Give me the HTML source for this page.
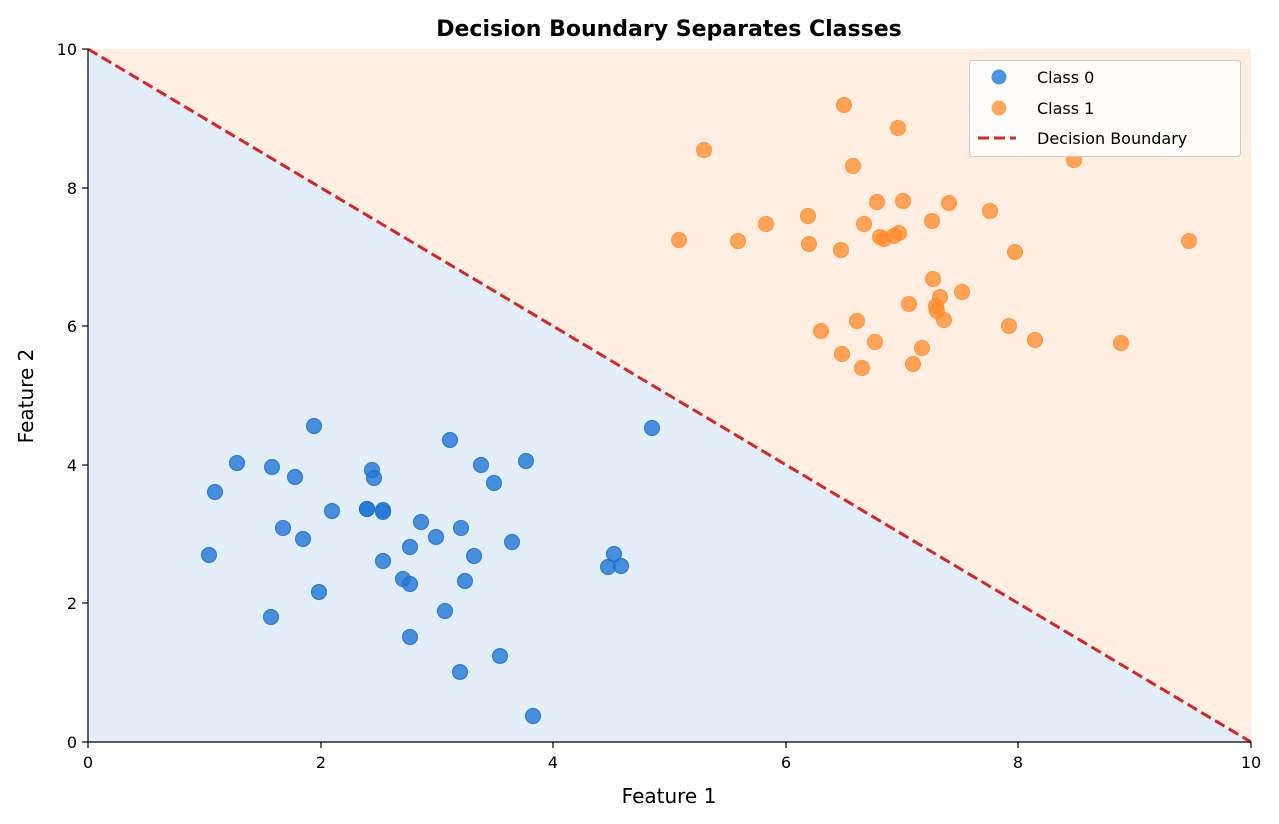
<!DOCTYPE html>
<html><head><meta charset="utf-8"><style>body{margin:0;background:#fff}svg{display:block;font-family:"DejaVu Sans","Liberation Sans",sans-serif}</style></head>
<body>
<svg width="1279" height="824" viewBox="0 0 1279 824" xmlns="http://www.w3.org/2000/svg">
<rect width="1279" height="824" fill="#fff"/>
<polygon points="88,49 1251,742 88,742" fill="#e3eef9"/>
<polygon points="88,49 1251,49 1251,742" fill="#ffefe3"/>
<g fill="#1f77d4" fill-opacity="0.8" stroke="#1f6fc8" stroke-opacity="0.8" stroke-width="1.2">
<circle cx="209" cy="555" r="7.5"/><circle cx="215" cy="492" r="7.5"/><circle cx="237" cy="463" r="7.5"/><circle cx="272" cy="467" r="7.5"/><circle cx="271" cy="617" r="7.5"/><circle cx="283" cy="528" r="7.5"/><circle cx="295" cy="477" r="7.5"/><circle cx="303" cy="539" r="7.5"/><circle cx="314" cy="426" r="7.5"/><circle cx="319" cy="592" r="7.5"/><circle cx="332" cy="511" r="7.5"/><circle cx="367" cy="509" r="7.5"/><circle cx="367" cy="509" r="7.5"/><circle cx="372" cy="470" r="7.5"/><circle cx="374" cy="478" r="7.5"/><circle cx="383" cy="510" r="7.5"/><circle cx="383" cy="512" r="7.5"/><circle cx="383" cy="561" r="7.5"/><circle cx="403" cy="579" r="7.5"/><circle cx="410" cy="547" r="7.5"/><circle cx="410" cy="584" r="7.5"/><circle cx="410" cy="637" r="7.5"/><circle cx="421" cy="522" r="7.5"/><circle cx="436" cy="537" r="7.5"/><circle cx="445" cy="611" r="7.5"/><circle cx="450" cy="440" r="7.5"/><circle cx="460" cy="672" r="7.5"/><circle cx="461" cy="528" r="7.5"/><circle cx="465" cy="581" r="7.5"/><circle cx="474" cy="556" r="7.5"/><circle cx="481" cy="465" r="7.5"/><circle cx="494" cy="483" r="7.5"/><circle cx="500" cy="656" r="7.5"/><circle cx="512" cy="542" r="7.5"/><circle cx="526" cy="461" r="7.5"/><circle cx="533" cy="716" r="7.5"/><circle cx="608" cy="567" r="7.5"/><circle cx="614" cy="554" r="7.5"/><circle cx="621" cy="566" r="7.5"/><circle cx="652" cy="428" r="7.5"/>
</g>
<g fill="#ff8a2a" fill-opacity="0.75" stroke="#ff8a2a" stroke-opacity="0.75" stroke-width="1.2">
<circle cx="679" cy="240" r="7.5"/><circle cx="704" cy="150" r="7.5"/><circle cx="738" cy="241" r="7.5"/><circle cx="766" cy="224" r="7.5"/><circle cx="808" cy="216" r="7.5"/><circle cx="809" cy="244" r="7.5"/><circle cx="821" cy="331" r="7.5"/><circle cx="841" cy="250" r="7.5"/><circle cx="842" cy="354" r="7.5"/><circle cx="844" cy="105" r="7.5"/><circle cx="853" cy="166" r="7.5"/><circle cx="857" cy="321" r="7.5"/><circle cx="862" cy="368" r="7.5"/><circle cx="864" cy="224" r="7.5"/><circle cx="875" cy="342" r="7.5"/><circle cx="877" cy="202" r="7.5"/><circle cx="880" cy="237" r="7.5"/><circle cx="884" cy="239" r="7.5"/><circle cx="894" cy="236" r="7.5"/><circle cx="899" cy="233" r="7.5"/><circle cx="898" cy="128" r="7.5"/><circle cx="903" cy="201" r="7.5"/><circle cx="909" cy="304" r="7.5"/><circle cx="913" cy="364" r="7.5"/><circle cx="922" cy="348" r="7.5"/><circle cx="932" cy="221" r="7.5"/><circle cx="933" cy="279" r="7.5"/><circle cx="936" cy="306" r="7.5"/><circle cx="937" cy="311" r="7.5"/><circle cx="940" cy="297" r="7.5"/><circle cx="944" cy="320" r="7.5"/><circle cx="949" cy="203" r="7.5"/><circle cx="962" cy="292" r="7.5"/><circle cx="990" cy="211" r="7.5"/><circle cx="1009" cy="326" r="7.5"/><circle cx="1015" cy="252" r="7.5"/><circle cx="1035" cy="340" r="7.5"/><circle cx="1074" cy="160" r="7.5"/><circle cx="1121" cy="343" r="7.5"/><circle cx="1189" cy="241" r="7.5"/>
</g>
<line x1="88" y1="49" x2="1251" y2="742" stroke="#d62728" stroke-width="3" stroke-dasharray="11,5"/>
<line x1="88" y1="49" x2="88" y2="742" stroke="#000" stroke-width="1.2"/>
<line x1="88" y1="742" x2="1251" y2="742" stroke="#000" stroke-width="1.2"/>
<g stroke="#000" stroke-width="1.2">
<line x1="88" y1="742" x2="88" y2="748"/><line x1="321" y1="742" x2="321" y2="748"/><line x1="553" y1="742" x2="553" y2="748"/><line x1="786" y1="742" x2="786" y2="748"/><line x1="1018" y1="742" x2="1018" y2="748"/><line x1="1251" y1="742" x2="1251" y2="748"/>
<line x1="82" y1="742" x2="88" y2="742"/><line x1="82" y1="603" x2="88" y2="603"/><line x1="82" y1="465" x2="88" y2="465"/><line x1="82" y1="326" x2="88" y2="326"/><line x1="82" y1="188" x2="88" y2="188"/><line x1="82" y1="49" x2="88" y2="49"/>
</g>
<g font-size="16" fill="#000" text-anchor="middle">
<text x="88" y="768">0</text><text x="321" y="768">2</text><text x="553" y="768">4</text><text x="786" y="768">6</text><text x="1018" y="768">8</text><text x="1251" y="768">10</text>
</g>
<g font-size="16" fill="#000" text-anchor="end">
<text x="77" y="748">0</text><text x="77" y="609">2</text><text x="77" y="471">4</text><text x="77" y="332">6</text><text x="77" y="194">8</text><text x="77" y="55">10</text>
</g>
<text x="669" y="803" font-size="20" text-anchor="middle">Feature 1</text>
<text x="33" y="396" font-size="20" text-anchor="middle" transform="rotate(-90 33 396)">Feature 2</text>
<text x="669" y="36" font-size="22" font-weight="bold" text-anchor="middle">Decision Boundary Separates Classes</text>
<rect x="969.5" y="60.5" width="271" height="96" rx="3" fill="#fff" fill-opacity="0.85" stroke="#ccc"/>
<circle cx="999" cy="77" r="7.5" fill="#1f77d4" fill-opacity="0.8"/>
<circle cx="999" cy="108" r="7.5" fill="#ff8a2a" fill-opacity="0.75"/>
<line x1="978" y1="138" x2="1016" y2="138" stroke="#d62728" stroke-width="3" stroke-dasharray="11,5"/>
<g font-size="16" fill="#000"><text x="1037" y="83">Class 0</text><text x="1037" y="114">Class 1</text><text x="1037" y="144">Decision Boundary</text></g>
</svg>
</body></html>
